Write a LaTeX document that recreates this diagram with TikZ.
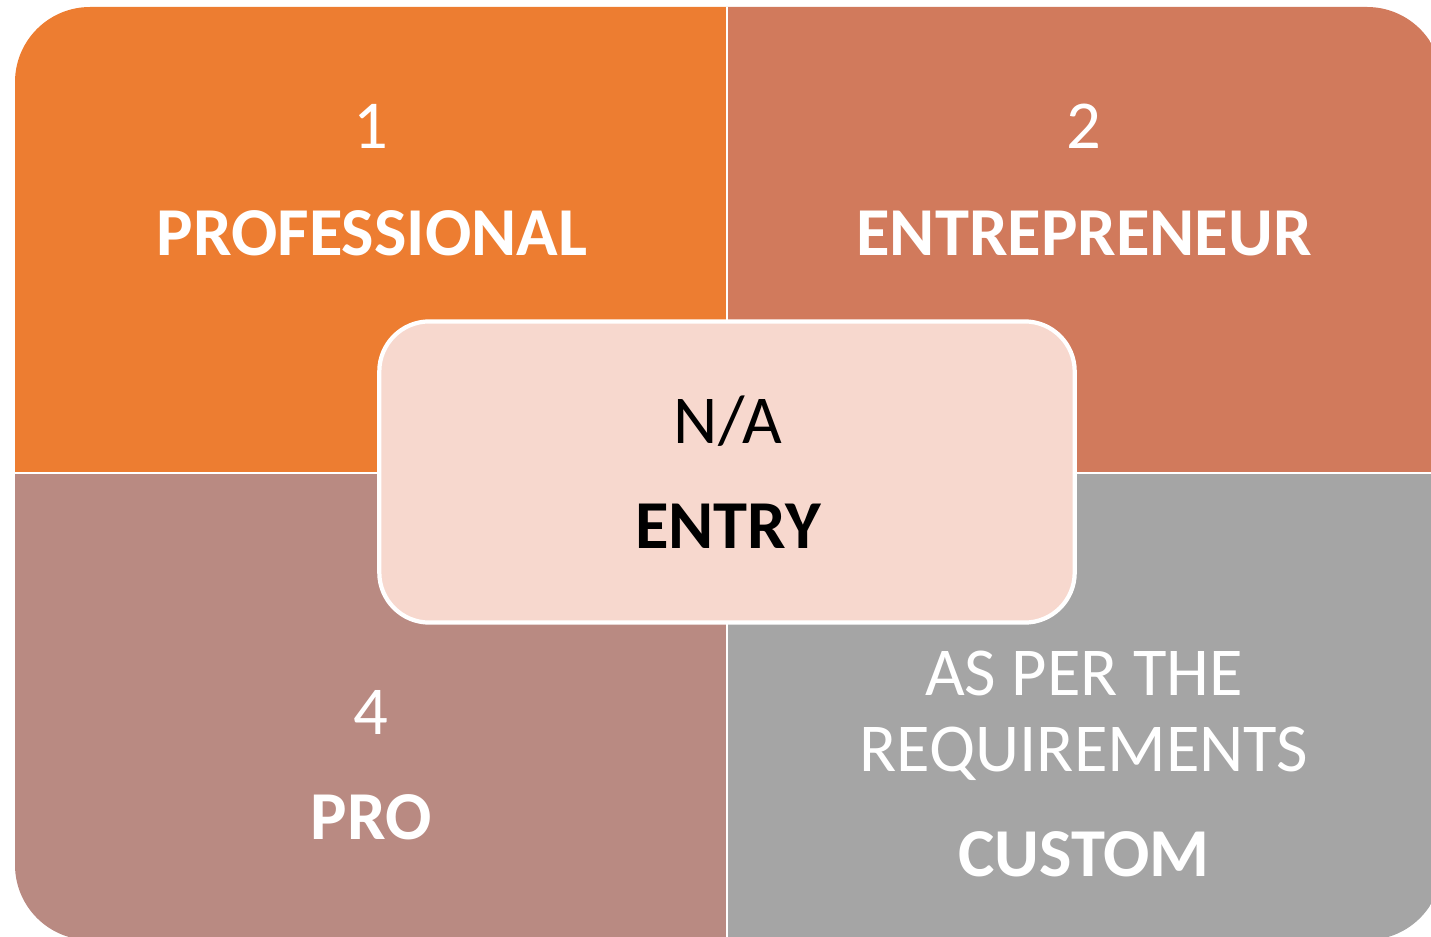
\documentclass[tikz,border=0pt]{standalone}
\usepackage{fontspec}
\setmainfont{Carlito}

\definecolor{profcol}{HTML}{ED7D31}
\definecolor{entrecol}{HTML}{D17A5C}
\definecolor{procol}{HTML}{B98A82}
\definecolor{customcol}{HTML}{A5A5A5}
\definecolor{entrycol}{HTML}{F7D8CE}

\begin{document}
\begin{tikzpicture}[
x=0.01cm,
y=-0.01cm,
quadtext/.style={
text=white,
anchor=base,
inner sep=0pt,
font=\fontsize{19.5}{23}\selectfont
},
quadtitle/.style={
quadtext,
font=\fontsize{19.5}{23}\selectfont\bfseries
},
entrybox/.style={
draw=white,
line width=1.2pt,
fill=entrycol,
rounded corners=0.5cm,
minimum width=6.95cm,
minimum height=3.01cm
}
]

\useasboundingbox (0,0) rectangle (1431,937);

% quadrants
\begin{scope}
\clip (0,0) rectangle (1431,937);
\clip[rounded corners=0.75cm] (15,7) rectangle (1442,940);
\fill[profcol] (0,0) rectangle (727,472);
\fill[entrecol] (727,0) rectangle (1450,472);
\fill[procol] (0,472) rectangle (727,950);
\fill[customcol] (727,472) rectangle (1450,950);
\draw[white, line width=0.8pt] (727,0) -- (727,950);
\draw[white, line width=0.8pt] (0,473) -- (1450,473);
\end{scope}

\node (P1) [quadtext]
at (371,149)
{1};

\node (P2) [quadtitle]
at (372,256)
{PROFESSIONAL};

\node (E1) [quadtext]
at (1084,149)
{2};

\node (E2) [quadtitle]
at (1084,256)
{ENTREPRENEUR};

\node (R1) [quadtext]
at (371,734)
{4};

\node (R2) [quadtitle]
at (371,839)
{PRO};

\node (C1) [quadtext]
at (1084,695)
{AS PER THE};

\node (C2) [quadtext]
at (1084,771)
{REQUIREMENTS};

\node (C3) [quadtitle]
at (1084,876)
{CUSTOM};

% centre box
\node (N) [entrybox]
at (727,472)
{};

\node (N1) [quadtext, text=black]
at (728,443)
{N/A};

\node (N2) [quadtitle, text=black]
at (728,548)
{ENTRY};

\end{tikzpicture}
\end{document}
